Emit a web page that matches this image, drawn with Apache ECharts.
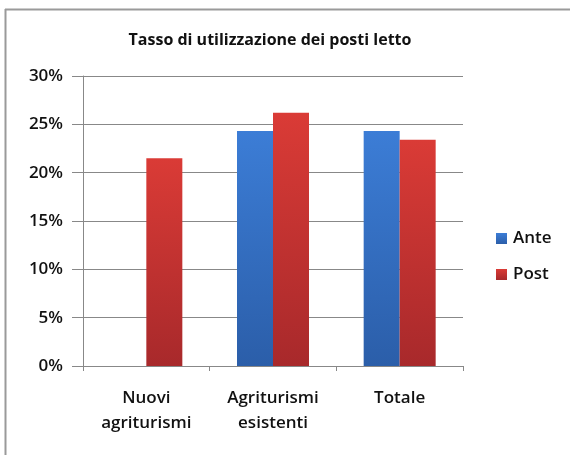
<!DOCTYPE html>
<html>
<head>
<meta charset="utf-8">
<script src="https://cdn.jsdelivr.net/npm/echarts@6/dist/echarts.min.js"></script>
<style>html,body{margin:0;padding:0;background:#fff}#c{width:570px;height:455px}</style>
</head>
<body>
<div id="c"></div>
<script>
const titleText = 'Tasso di utilizzazione dei posti letto';
const categories = ['Nuovi\nagriturismi', 'Agriturismi\nesistenti', 'Totale'];
const anteValues = [null, 24.3, 24.3];
const postValues = [21.5, 26.2, 23.4];
const seriesNames = ['Ante', 'Post'];

const FONT = '"Open Sans"';
const chart = echarts.init(document.getElementById('c'), null, {renderer: 'canvas'});
function grad(top, bottom) {
  return new echarts.graphic.LinearGradient(0, 0, 0, 1, [
    {offset: 0, color: top}, {offset: 1, color: bottom}
  ]);
}
chart.setOption({
  animation: false,
  backgroundColor: '#fff',
  title: {
    text: titleText, left: 265, top: 27, textAlign: 'center',
    textStyle: {fontFamily: FONT, fontSize: 16, fontWeight: 'bold', color: '#111'}
  },
  graphic: [
    {type: 'line', shape: {x1: 5, y1: 9.5, x2: 570, y2: 9.5}, style: {stroke: '#9a9a9a', lineWidth: 2}},
    {type: 'line', shape: {x1: 5.5, y1: 9, x2: 5.5, y2: 455}, style: {stroke: '#9a9a9a', lineWidth: 2}}
  ],
  legend: {
    orient: 'vertical', left: 496, top: 230, padding: 0,
    itemWidth: 11, itemHeight: 11, itemGap: 19,
    icon: 'rect',
    textStyle: {fontFamily: FONT, fontSize: 17, fontWeight: 600, color: '#111', padding: [0, 0, 0, 1]},
    data: seriesNames
  },
  grid: {left: 83, top: 76, width: 380, height: 290, containLabel: false},
  xAxis: {
    type: 'category', data: categories,
    axisLine: {lineStyle: {color: '#888'}},
    axisTick: {show: true, length: 5, lineStyle: {color: '#888'}},
    axisLabel: {fontFamily: FONT, fontSize: 17, fontWeight: 600, color: '#111', lineHeight: 25, margin: 20, interval: 0}
  },
  yAxis: {
    type: 'value', min: 0, max: 30, interval: 5,
    axisLine: {show: true, lineStyle: {color: '#888'}},
    axisTick: {show: true, length: 11, lineStyle: {color: '#888'}},
    splitLine: {lineStyle: {color: '#888'}},
    axisLabel: {fontFamily: FONT, fontSize: 17, fontWeight: 600, color: '#111', margin: 20, formatter: v => v + '%'}
  },
  series: [
    {name: seriesNames[0], type: 'bar', data: anteValues, barWidth: 36, barGap: '0%',
     itemStyle: {color: grad('#3c7dd6', '#2b5ea9')}},
    {name: seriesNames[1], type: 'bar', data: postValues, barWidth: 36, barGap: '0%',
     itemStyle: {color: grad('#da3b36', '#a8292b')}}
  ]
});
</script>
</body>
</html>
